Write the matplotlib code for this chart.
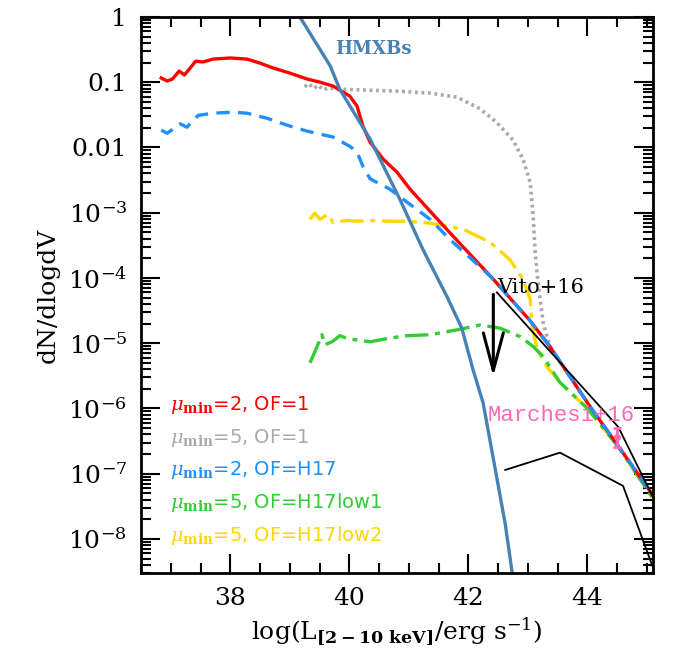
import matplotlib
matplotlib.use("Agg")
import matplotlib.pyplot as plt
from matplotlib.ticker import FixedLocator, FixedFormatter, LogLocator, MultipleLocator, NullFormatter

plt.rcParams['font.family'] = ['DejaVu Serif']
plt.rcParams['mathtext.fontset'] = 'dejavuserif'

# model curves (log L, dN/dlogdV)
x_red = [36.84, 36.94, 37.03, 37.14, 37.23, 37.42, 37.54, 37.71, 38.0, 38.28, 38.5, 38.72,
         39.0, 39.29, 39.51, 39.73, 40.01, 40.13, 40.23, 40.35, 40.57, 40.8, 41.02, 41.36,
         41.53, 41.91, 42.4, 43.04, 43.37, 44.05, 44.5, 45.1]
y_red = [0.116, 0.104, 0.112, 0.148, 0.129, 0.21, 0.204, 0.226, 0.235, 0.226, 0.196, 0.165,
         0.138, 0.112, 0.1, 0.087, 0.061, 0.043, 0.021, 0.012, 6.6e-3, 4.2e-3, 2.3e-3, 1.05e-3,
         7.1e-4, 3.0e-4, 1.0e-4, 2.2e-5, 8.9e-6, 1.05e-6, 2.8e-7, 4.7e-8]

x_blue = [36.84, 36.94, 37.16, 37.27, 37.46, 37.71, 38.05, 38.28, 38.62, 38.95, 39.29, 39.73,
          40.01, 40.13, 40.23, 40.35, 40.68, 40.97, 41.36, 41.69, 42.4, 43.04, 43.37, 44.05,
          44.5, 45.1]
y_blue = [0.0184, 0.0165, 0.023, 0.0204, 0.031, 0.0335, 0.0347, 0.0335, 0.028, 0.022, 0.0178,
          0.0144, 0.0104, 0.0085, 0.0051, 0.0033, 0.0023, 0.00145, 7.9e-4, 3.9e-4, 1.0e-4,
          2.2e-5, 8.9e-6, 1.05e-6, 2.8e-7, 4.7e-8]

x_gray = [39.25, 39.32, 39.4, 39.48, 39.56, 39.65, 39.84, 40.23, 40.8, 41.36, 41.81, 42.2,
          42.48, 42.75, 42.92, 43.04, 43.09, 43.12, 43.17, 43.26, 43.37, 44.05, 44.5, 45.1]
y_gray = [0.085, 0.095, 0.08, 0.09, 0.076, 0.082, 0.078, 0.076, 0.073, 0.068, 0.059, 0.039,
          0.024, 0.013, 0.0066, 0.0029, 8.8e-4, 2.7e-4, 8.5e-5, 2.0e-5, 8.9e-6, 1.05e-6,
          2.8e-7, 4.7e-8]

x_yel = [39.34, 39.42, 39.51, 39.63, 39.73, 39.96, 40.13, 40.35, 40.68, 40.97, 41.36, 41.91,
         42.37, 42.7, 42.92, 43.04, 43.07, 43.16, 43.32, 43.54, 44.0, 44.52, 45.1]
y_yel = [7.9e-4, 9.8e-4, 7.9e-4, 9.4e-4, 7.1e-4, 7.6e-4, 7.4e-4, 7.6e-4, 7.4e-4, 7.4e-4,
         6.9e-4, 5.6e-4, 3.5e-4, 1.9e-4, 9.5e-5, 4.7e-5, 1.8e-5, 7.9e-6, 4.4e-6, 2.5e-6,
         1.0e-6, 2.6e-7, 4.2e-8]

x_grn = [39.34, 39.46, 39.54, 39.59, 39.71, 39.84, 39.98, 40.35, 40.68, 40.97, 41.36, 41.81,
         42.2, 42.53, 42.87, 43.09, 43.26, 43.54, 44.0, 44.52, 45.1]
y_grn = [5.0e-6, 8.9e-6, 1.35e-5, 9.5e-6, 1.05e-5, 1.3e-5, 1.17e-5, 1.05e-5, 1.2e-5, 1.3e-5,
         1.35e-5, 1.6e-5, 1.9e-5, 1.7e-5, 1.26e-5, 8.9e-6, 6.2e-6, 2.5e-6, 1.0e-6, 2.6e-7,
         4.2e-8]

x_hmxb = [39.17, 39.68, 39.84, 40.35, 40.85, 41.24, 41.64, 41.89, 42.08, 42.25, 42.42, 42.62, 42.75]
y_hmxb = [1.0, 0.177, 0.078, 0.0134, 1.6e-3, 2.7e-4, 5.2e-5, 1.7e-5, 3.9e-6, 1.2e-6, 1.7e-7,
          1.7e-8, 2.5e-9]

# observations
x_vito_up = [42.48, 44.52, 45.1]
y_vito_up = [6.0e-5, 5.2e-7, 4.4e-8]
x_vito_lo = [42.62, 43.54, 44.60, 45.1]
y_vito_lo = [1.14e-7, 2.1e-7, 6.5e-8, 3.7e-9]
vito_arrow_x = 42.42
vito_arrow_y = [5.6e-5, 3.1e-6]
marchesi_x = 44.5
marchesi_y = 3.6e-7
marchesi_err = [[1.0e-7], [1.4e-7]]

legend_labels = [r'$\mu_{\mathbf{min}}$=2, OF=1', r'$\mu_{\mathbf{min}}$=5, OF=1',
                 r'$\mu_{\mathbf{min}}$=2, OF=H17', r'$\mu_{\mathbf{min}}$=5, OF=H17low1',
                 r'$\mu_{\mathbf{min}}$=5, OF=H17low2']
legend_colors = ['#ff0000', '#a9a9a9', '#1e90ff', '#32cd32', '#ffd700']

yticks = [1, 0.1, 0.01, 1e-3, 1e-4, 1e-5, 1e-6, 1e-7, 1e-8]
ytick_labels = ['1', '0.1', '0.01', r'$10^{-3}$', r'$10^{-4}$', r'$10^{-5}$',
                r'$10^{-6}$', r'$10^{-7}$', r'$10^{-8}$']

fig = plt.figure(figsize=(6.73, 6.62), dpi=100)
ax = fig.add_axes([0.2095, 0.1344, 0.7605, 0.8400])

ax.plot(x_gray, y_gray, color='#a9a9a9', lw=2.6, ls=(0, (0.8, 1.0)))
ax.plot(x_yel, y_yel, color='#ffd700', lw=2.4, ls=(0, (7, 2, 1.5, 2)))
ax.plot(x_grn, y_grn, color='#32cd32', lw=2.4, ls=(0, (7, 2, 1.5, 2)))
ax.plot(x_red, y_red, color='#ff0000', lw=2.4)
ax.plot(x_blue, y_blue, color='#1e90ff', lw=2.4, ls=(0, (4, 2.5)))
ax.plot(x_hmxb, y_hmxb, color='#4682b4', lw=2.4)

ax.plot(x_vito_up, y_vito_up, color='black', lw=1.3)
ax.plot(x_vito_lo, y_vito_lo, color='black', lw=1.3)
ax.annotate('', xy=(vito_arrow_x, vito_arrow_y[1]), xytext=(vito_arrow_x, vito_arrow_y[0]),
            arrowprops=dict(arrowstyle='->,head_length=1.5,head_width=0.4', color='black',
                            lw=2.2, mutation_scale=18, shrinkA=0, shrinkB=0))
ax.errorbar([marchesi_x], [marchesi_y], yerr=marchesi_err, fmt='o', ms=4, color='#ff69b4',
            ecolor='#ff69b4', elinewidth=2, capsize=3, capthick=2)

ax.text(39.76, 0.32, 'HMXBs', color='#4682b4', fontsize=13, fontweight='bold', va='center')
ax.text(42.48, 7.1e-5, 'Vito+16', color='black', fontsize=15, va='center')
ax.text(42.33, 7.7e-7, 'Marchesi+16', color='#ff69b4', fontsize=16, va='center',
        family='Liberation Mono')

for i, (lab, col) in enumerate(zip(legend_labels, legend_colors)):
    ax.text(0.057, 0.302 - i * 0.0585, lab, color=col, fontsize=14, va='center',
            family='DejaVu Sans', transform=ax.transAxes)

ax.set_yscale('log')
ax.set_xlim(36.5, 45.1)
ax.set_ylim(3.0e-9, 1.0)

ax.xaxis.set_major_locator(MultipleLocator(2))
ax.xaxis.set_minor_locator(MultipleLocator(0.5))
ax.yaxis.set_major_locator(FixedLocator(yticks))
ax.yaxis.set_major_formatter(FixedFormatter(ytick_labels))
ax.yaxis.set_minor_locator(LogLocator(base=10, subs=range(2, 10), numticks=20))
ax.yaxis.set_minor_formatter(NullFormatter())

ax.tick_params(which='both', direction='in', top=True, right=True, width=1.5, labelsize=18)
ax.tick_params(which='major', length=14, pad=10)
ax.tick_params(which='minor', length=7)
for s in ax.spines.values():
    s.set_linewidth(2)

ax.set_xlabel(r'log(L$_{\mathbf{[2-10\ keV]}}$/erg s$^{-1}$)', fontsize=18, labelpad=4)
ax.set_ylabel('dN/dlogdV', fontsize=18, labelpad=6)

fig.savefig('out.png', dpi=100)
